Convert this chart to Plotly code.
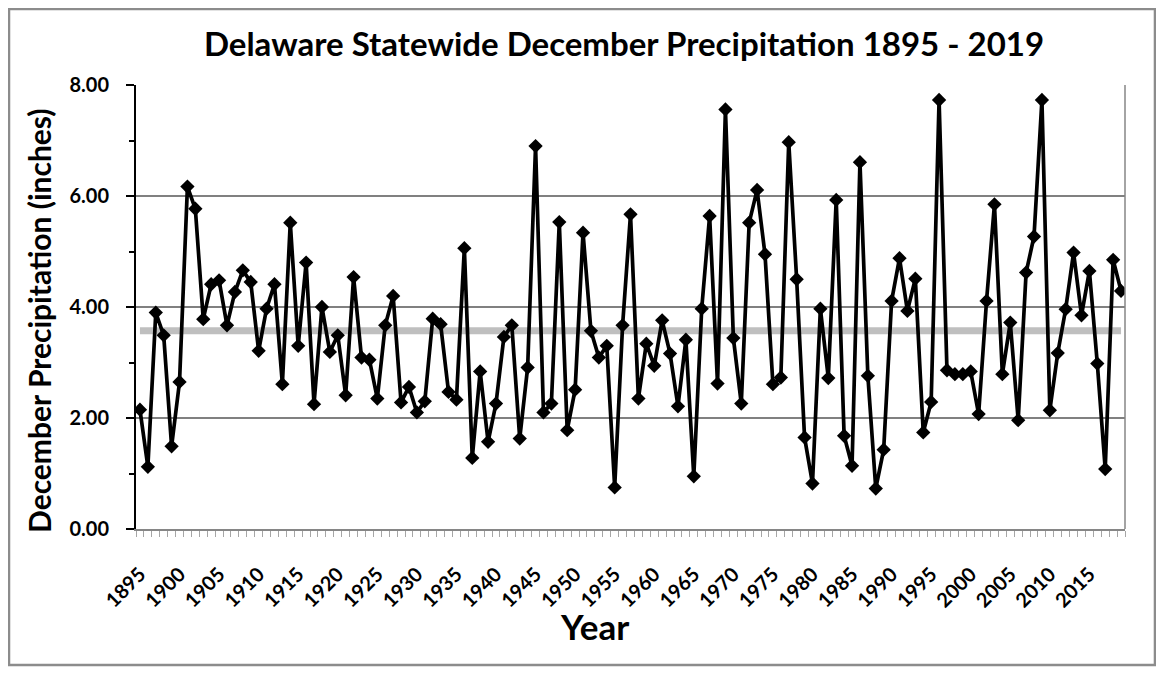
import plotly.graph_objects as go

years = list(range(1895, 2020))
precip = [
    2.15, 1.12, 3.90, 3.49, 1.49, 2.65, 6.17, 5.77, 3.78, 4.41,   # 1895-1904
    4.48, 3.67, 4.27, 4.66, 4.45, 3.21, 3.97, 4.41, 2.61, 5.52,   # 1905-1914
    3.30, 4.80, 2.25, 4.00, 3.19, 3.49, 2.41, 4.54, 3.09, 3.05,   # 1915-1924
    2.35, 3.67, 4.20, 2.28, 2.56, 2.10, 2.30, 3.79, 3.69, 2.47,   # 1925-1934
    2.33, 5.06, 1.28, 2.84, 1.57, 2.26, 3.46, 3.67, 1.63, 2.91,   # 1935-1944
    6.90, 2.10, 2.26, 5.53, 1.78, 2.51, 5.34, 3.57, 3.09, 3.30,   # 1945-1954
    0.75, 3.67, 5.67, 2.35, 3.34, 2.94, 3.76, 3.16, 2.21, 3.41,   # 1955-1964
    0.95, 3.97, 5.64, 2.62, 7.56, 3.44, 2.26, 5.52, 6.11, 4.95,   # 1965-1974
    2.61, 2.73, 6.97, 4.50, 1.65, 0.82, 3.97, 2.72, 5.93, 1.68,   # 1975-1984
    1.14, 6.61, 2.76, 0.73, 1.43, 4.11, 4.88, 3.93, 4.51, 1.74,   # 1985-1994
    2.29, 7.73, 2.86, 2.79, 2.79, 2.84, 2.07, 4.11, 5.85, 2.79,   # 1995-2004
    3.72, 1.96, 4.62, 5.27, 7.73, 2.14, 3.17, 3.96, 4.98, 3.85,   # 2005-2014
    4.65, 2.98, 1.08, 4.85, 4.29,                                 # 2015-2019
]
mean_value = 3.57
mean_series = [mean_value] * len(years)

y_tickvals = [0, 2, 4, 6, 8]
x_label_years = [1895, 1900, 1905, 1910, 1915, 1920, 1925, 1930, 1935, 1940, 1945,
                 1950, 1955, 1960, 1965, 1970, 1975, 1980, 1985, 1990, 1995, 2000,
                 2005, 2010, 2015]

FONT = "Lato"

fig = go.Figure()
fig.add_trace(go.Scatter(
    x=years, y=mean_series, mode="lines",
    line=dict(color="#BFBFBF", width=7),
    hoverinfo="skip", showlegend=False,
))
fig.add_trace(go.Scatter(
    x=years, y=precip, mode="lines+markers",
    line=dict(color="black", width=3.7),
    marker=dict(symbol="diamond", size=11, color="black"),
    showlegend=False,
))

fig.update_layout(
    width=1148, height=659,
    margin=dict(l=128, r=31, t=77, b=138),
    paper_bgcolor="white", plot_bgcolor="white",
    font=dict(family=FONT, color="black"),
    title=dict(
        text="<b>Delaware Statewide December Precipitation 1895 - 2019</b>",
        font=dict(family=FONT, size=33, color="black"),
        x=0.5366, xanchor="center", y=0.944, yanchor="middle",
    ),
    xaxis=dict(
        range=[1894.5, 2019.5],
        tickmode="array", tickvals=x_label_years,
        ticktext=[f"<b>{y}</b>" for y in x_label_years],
        tickangle=-45,
        tickfont=dict(family=FONT, size=20, color="black"),
        ticks="", ticklabelstandoff=24,
        showgrid=False, zeroline=False,
        showline=True, linecolor="#868686", linewidth=1.5,
        minor=dict(tickmode="linear", tick0=1894.5, dtick=1,
                   ticks="outside", ticklen=6, tickcolor="#A6A6A6",
                   tickwidth=1, showgrid=False),
    ),
    yaxis=dict(
        range=[0, 8],
        tickmode="array", tickvals=y_tickvals,
        ticktext=[f"<b>{v:.2f}</b>" for v in y_tickvals],
        tickfont=dict(family=FONT, size=20, color="black"),
        ticks="outside", ticklen=8, tickcolor="black", tickwidth=1.5,
        ticklabelstandoff=13,
        showgrid=True, gridcolor="#808080", gridwidth=1.5,
        zeroline=False,
        showline=True, linecolor="black", linewidth=2,
        minor=dict(tickmode="linear", tick0=1, dtick=2,
                   ticks="outside", ticklen=5, tickcolor="black",
                   tickwidth=1.5, showgrid=False),
    ),
    annotations=[
        dict(text="<b>Year</b>", xref="paper", yref="paper", x=0.4641, y=-0.2185,
             xanchor="center", yanchor="middle", showarrow=False,
             font=dict(family=FONT, size=35, color="black")),
        dict(text="<b>December Precipitation (inches)</b>", xref="paper", yref="paper",
             x=-0.0981, y=0.4707, xanchor="center", yanchor="middle",
             textangle=-90, showarrow=False,
             font=dict(family=FONT, size=30, color="black")),
    ],
    shapes=[
        dict(type="line", xref="paper", yref="paper", x0=1, x1=1, y0=0, y1=1,
             line=dict(color="#868686", width=1.5)),
        dict(type="rect", xref="paper", yref="paper",
             x0=-0.1284, x1=1.0303, y0=-0.3063, y1=1.1712,
             line=dict(color="#8C8C8C", width=2.5), fillcolor="rgba(0,0,0,0)"),
    ],
)

fig.write_html("out.html")
